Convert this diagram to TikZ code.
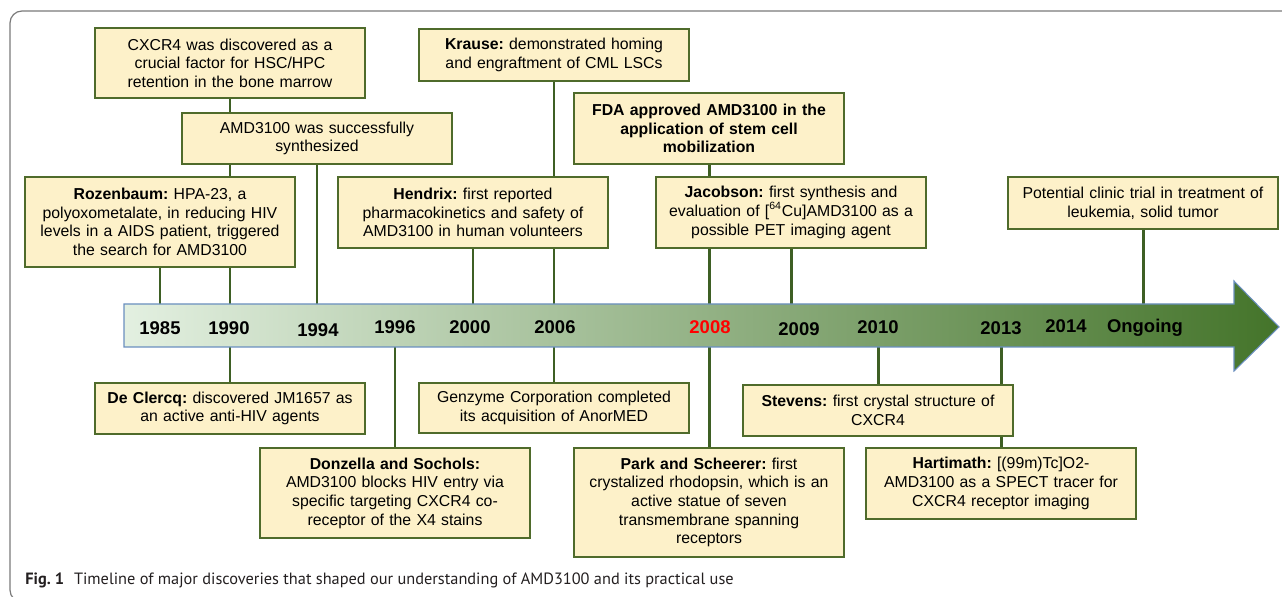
\documentclass[tikz,border=0pt]{standalone}
\usepackage{fontspec}
\setmainfont{Liberation Sans}
\newfontfamily\capfont{PT Sans}
\usetikzlibrary{backgrounds}

\definecolor{boxfill}{HTML}{FDF1C9}
\definecolor{boxline}{HTML}{4F6B2B}
\definecolor{stemgreen}{HTML}{3E5F24}
\definecolor{arrowlight}{HTML}{E3F0E1}
\definecolor{arrowmid}{HTML}{93B47A}
\definecolor{arrowdark}{HTML}{44742A}
\definecolor{arrowedge}{HTML}{6A8FBF}
\definecolor{framegray}{HTML}{7A7A7A}
\definecolor{captext}{HTML}{231F20}

\frenchspacing

\begin{document}
\begin{tikzpicture}[x=0.02cm, y=-0.02cm,
    event/.style={draw=boxline, fill=boxfill, line width=1pt, minimum width=5.4cm,
        text width=5.2cm, inner sep=0.1cm, align=center, font=\fontsize{9}{10.6}\selectfont},
    stem/.style={draw=stemgreen, line width=1.7pt},
    year/.style={font=\fontsize{10.5}{12}\selectfont\bfseries}]
    \useasboundingbox (0,0) rectangle (1282,597);

    % Frame
    \draw[framegray, line width=0.7pt, rounded corners=0.24cm] (1282,11) -- (10,11) -- (10,602) -- (40,602);

    % Arrow
    \shadedraw[left color=arrowlight, middle color=arrowmid, right color=arrowdark, draw=arrowedge, line width=0.6pt]
        (124,304) -- (1234,304) -- (1234,281) -- (1279,327) -- (1234,371) -- (1234,347) -- (124,347) -- cycle;

    % Arrow edges at each year
    \coordinate (t1985) at (160,304);
    \coordinate (t1990) at (230,304);
    \coordinate (t1994) at (317,304);
    \coordinate (t2000) at (473,304);
    \coordinate (t2006) at (554,304);
    \coordinate (t2008) at (709,304);
    \coordinate (t2009) at (791,304);
    \coordinate (tOngoing) at (1143,304);
    \coordinate (b1990) at (230,347);
    \coordinate (b1996) at (395,347);
    \coordinate (b2006) at (554,347);
    \coordinate (b2008) at (709,347);
    \coordinate (b2010) at (878,347);
    \coordinate (b2013) at (1001,347);

    % Years
    \node[year] (y1985) at (160,328) {1985};
    \node[year] (y1990) at (229,328) {1990};
    \node[year] (y1994) at (318,330) {1994};
    \node[year] (y1996) at (395,327) {1996};
    \node[year] (y2000) at (470,327) {2000};
    \node[year] (y2006) at (555,327) {2006};
    \node[year, red] (y2008) at (710,327) {2008};
    \node[year] (y2009) at (799,329) {2009};
    \node[year] (y2010) at (878,327) {2010};
    \node[year] (y2013) at (1001,328) {2013};
    \node[year] (y2014) at (1066,326) {2014};
    \node[year] (yOngoing) at (1145,328) {Ongoing};

    % Events above
    \node[event, minimum height=1.4cm] (cxcr) at (230,63) {CXCR4 was discovered as a\\crucial factor for HSC/HPC\\retention in the bone marrow};
    \node[event, minimum height=1.02cm] (synth) at (317,138.5) {AMD3100 was successfully\\synthesized};
    \node[event, minimum height=1.8cm] (rozen) at (160,222) {\textbf{Rozenbaum:} HPA-23, a\\polyoxometalate, in reducing HIV\\levels in a AIDS patient, triggered\\the search for AMD3100};
    \node[event, minimum height=1.42cm] (hendrix) at (473,212.5) {\textbf{Hendrix:} first reported\\pharmacokinetics and safety of\\AMD3100 in human volunteers};
    \node[event, minimum height=1.04cm] (krause) at (554,55) {\textbf{Krause:} demonstrated homing\\and engraftment of CML LSCs};
    \node[event, minimum height=1.42cm] (fda) at (709,128.5) {\textbf{FDA approved AMD3100 in the}\\\textbf{application of stem cell}\\\textbf{mobilization}};
    \node[event, minimum height=1.42cm] (jacob) at (791,212.5) {\textbf{Jacobson:} first synthesis and\\evaluation of [\textsuperscript{64}Cu]AMD3100 as a\\possible PET imaging agent};
    \node[event, minimum height=1.04cm] (clinic) at (1143,203) {Potential clinic trial in treatment of\\leukemia, solid tumor};

    % Events below
    \node[event, minimum height=1.02cm] (clercq) at (230,408.5) {\textbf{De Clercq:} discovered JM1657 as\\an active anti-HIV agents};
    \node[event, minimum height=1.0cm] (genzyme) at (554,408) {Genzyme Corporation completed\\its acquisition of AnorMED};
    \node[event, minimum height=1.8cm] (donzella) at (395,493) {\textbf{Donzella and Sochols:}\\AMD3100 blocks HIV entry via\\specific targeting CXCR4 co-\\receptor of the X4 stains};
    \node[event, minimum height=2.18cm] (park) at (709,502.5) {\textbf{Park and Scheerer:} first\\crystalized rhodopsin, which is an\\active statue of seven\\transmembrane spanning\\receptors};
    \node[event, minimum height=1.02cm] (stevens) at (878,410.5) {\textbf{Stevens:} first crystal structure of\\CXCR4};
    \node[event, minimum height=1.42cm] (harti) at (1001,483.5) {\textbf{Hartimath:} [(99m)Tc]O2-\\AMD3100 as a SPECT tracer for\\CXCR4 receptor imaging};

    % Stems
    \begin{scope}[on background layer]
        \draw[stem] (rozen) -- (t1985);
        \draw[stem] (cxcr) -- (t1990);
        \draw[stem] (synth) -- (t1994);
        \draw[stem] (hendrix) -- (t2000);
        \draw[stem] (krause) -- (t2006);
        \draw[stem] (fda) -- (t2008);
        \draw[stem] (jacob) -- (t2009);
        \draw[stem] (clinic) -- (tOngoing);
        \draw[stem] (b1990) -- (clercq);
        \draw[stem] (b1996) -- (donzella);
        \draw[stem] (b2006) -- (genzyme);
        \draw[stem] (b2008) -- (park);
        \draw[stem] (b2010) -- (stevens);
        \draw[stem] (b2013) -- (harti);
    \end{scope}

    % Caption
    \node[anchor=west, inner sep=0pt, text=captext, font=\capfont\fontsize{9.3}{11}\selectfont] (caption) at (25,580)
        {\textbf{Fig. 1}\hspace{0.6em}Timeline of major discoveries that shaped our understanding of AMD3100 and its practical use};
\end{tikzpicture}
\end{document}
